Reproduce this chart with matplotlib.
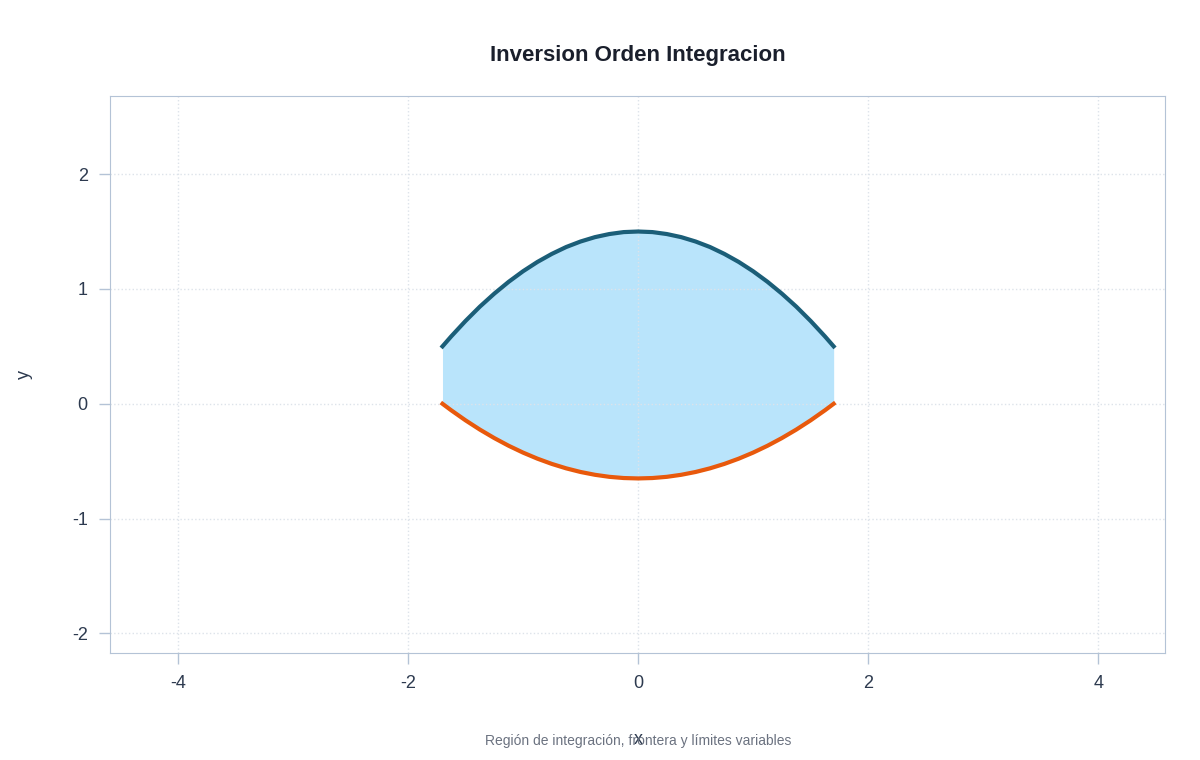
import matplotlib
matplotlib.use("Agg")
import matplotlib.pyplot as plt
from matplotlib.ticker import FuncFormatter

plt.rcParams['font.family'] = ['Liberation Sans', 'DejaVu Sans']

x_half = [0.0, 0.125, 0.25, 0.375, 0.5, 0.625, 0.75, 0.875, 1.0, 1.125, 1.25, 1.375, 1.5, 1.625, 1.7]
upper_half = [1.5, 1.495, 1.478, 1.451, 1.413, 1.365, 1.305, 1.235, 1.154, 1.062, 0.959, 0.846, 0.721, 0.586, 0.5]
lower_half = [-0.65, -0.6465, -0.636, -0.6183, -0.5938, -0.5621, -0.5235, -0.4778, -0.4251, -0.3654, -0.2985, -0.2248, -0.144, -0.0561, 0.0]
xticks = [-4, -2, 0, 2, 4]
yticks = [-2, -1, 0, 1, 2]

x_pts = [-v for v in x_half[::-1]] + x_half[1:]
upper = upper_half[::-1] + upper_half[1:]
lower = lower_half[::-1] + lower_half[1:]

fig = plt.figure(figsize=(12, 7.6), dpi=100)
ax = fig.add_axes([110/1200, 1-653/760, 1055/1200, 557/760])
ax.fill_between(x_pts, lower, upper, color="#b9e4fb", lw=0)
ax.plot(x_pts, upper, color="#1b5e78", lw=3)
ax.plot(x_pts, lower, color="#e8590c", lw=3)
ax.set_xlim(-4.59, 4.58)
ax.set_ylim(-2.17, 2.68)
ax.set_xticks(xticks)
ax.set_yticks(yticks)
fmt = FuncFormatter(lambda v, p: f"{v:g}")
ax.xaxis.set_major_formatter(fmt)
ax.yaxis.set_major_formatter(fmt)
ax.grid(True, ls=":", color="#dde3ea", lw=1)
for s in ax.spines.values():
    s.set_color("#b4c3d6")
ax.tick_params(colors="#2d3a4f", labelsize=13, length=8, width=1, color="#b4c3d6", pad=8)
ax.set_ylabel("y", fontsize=13, color="#2d3a4f", labelpad=28)
fig.text(638/1200, 1-740/760, "x", ha="center", va="center", fontsize=13, color="#2d3a4f")
fig.text(638/1200, 1-55/760, "Inversion Orden Integracion", ha="center", va="center",
         fontsize=16, fontweight="bold", color="#1a1f2c")
fig.text(638/1200, 1-741/760, "Región de integración, frontera y límites variables", ha="center",
         va="center", fontsize=10, color="#6b7280")
fig.savefig("out.png")
